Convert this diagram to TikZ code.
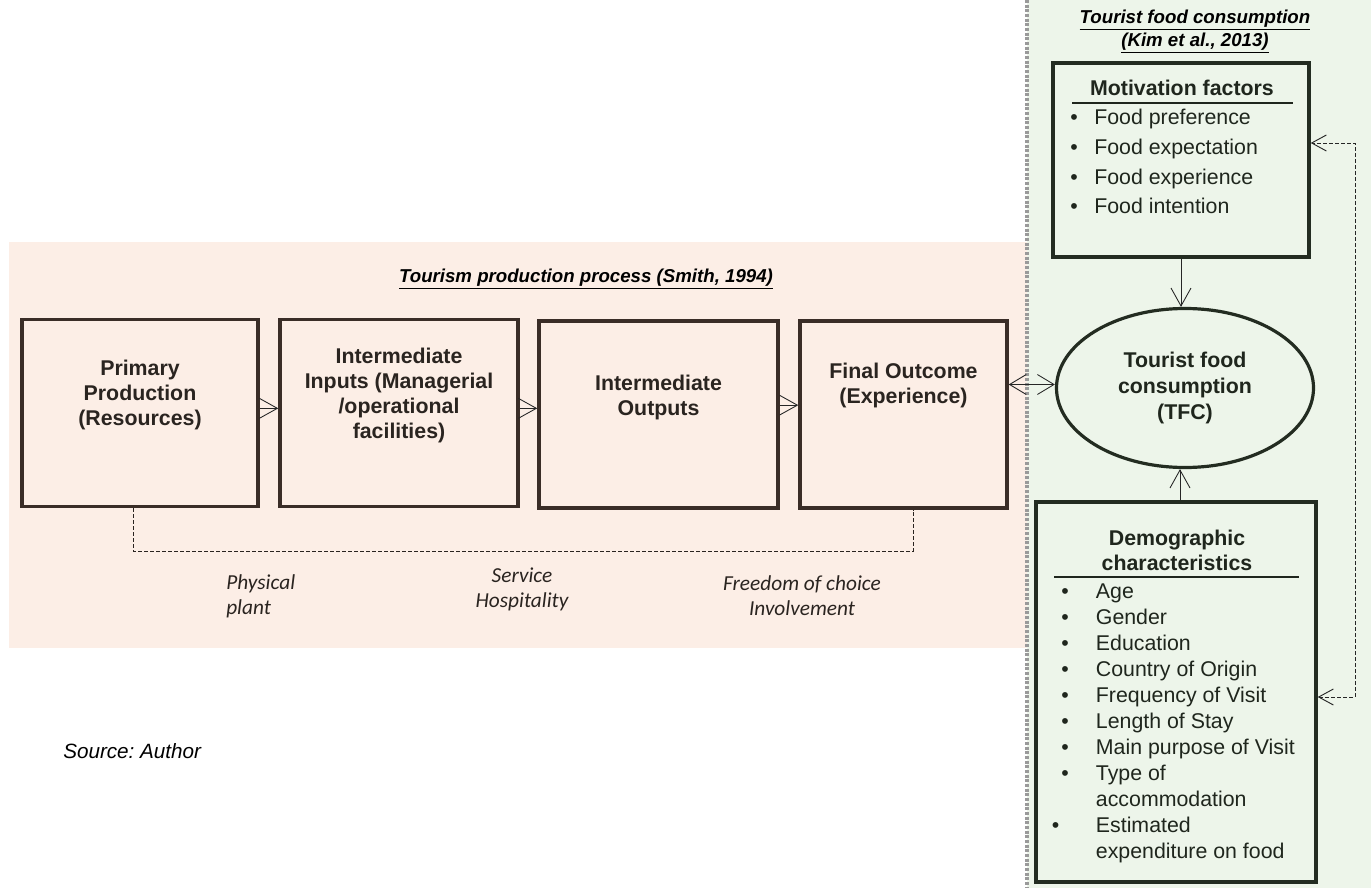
\documentclass[tikz,border=0pt]{standalone}
\usepackage{fontspec}
\setmainfont{Liberation Sans}
\newfontfamily\calibfont{Carlito}
\usetikzlibrary{calc,shapes.geometric,arrows.meta}
\definecolor{peach}{HTML}{FCEEE6}
\definecolor{mint}{HTML}{EDF5EA}
\definecolor{brownline}{HTML}{3A2D27}
\definecolor{greenline}{HTML}{232C21}
\definecolor{ink}{HTML}{2A2420}
\definecolor{greenink}{HTML}{1F261D}
\definecolor{sepgray}{HTML}{9A9A9A}
\frenchspacing

\begin{document}
\begin{tikzpicture}[x=0.75pt,y=-0.75pt,
  procbox/.style={draw=brownline, line width=2.6pt, minimum height=140pt, inner sep=0pt},
  proctext/.style={font=\fontsize{16}{18.75}\selectfont\bfseries, align=center, text=ink, inner sep=0pt},
  rbox/.style={draw=greenline, line width=2.6pt, inner sep=0pt},
  rhead/.style={font=\fontsize{16}{18.75}\selectfont\bfseries, align=center, text=greenink, inner sep=0pt},
  rlist/.style={font=\fontsize{16}{19.5}\selectfont, text=greenink, anchor=base west, inner sep=0pt},
  title/.style={font=\fontsize{14}{17.25}\selectfont\bfseries\itshape, align=center, text=black, inner sep=0pt},
  sidelabel/.style={font=\calibfont\fontsize{16}{18.75}\selectfont\itshape, text=ink, inner sep=0pt},
  arr/.style={-{Straight Barb[length=13.5pt,width=15pt]}, line width=0.65pt, draw=black!85},
  arrboth/.style={{Straight Barb[length=12.5pt,width=15pt]}-{Straight Barb[length=12.5pt,width=15pt]}, line width=0.65pt, draw=black!85},
  linkdash/.style={line width=0.7pt, draw=ink, dash pattern=on 3pt off 1.5pt},
  backdash/.style={{Straight Barb[length=11pt,width=12pt]}-{Straight Barb[length=11pt,width=12pt]}, line width=0.7pt, draw=black!85, dash pattern=on 3pt off 1.5pt},
  rule/.style={line width=1.1pt, draw=greenink}
]
\useasboundingbox (0,0) rectangle (1371,888);

% panels
\fill[peach] (9,242) rectangle (1027,648);
\fill[mint] (1027,0) rectangle (1371,888);
\draw[sepgray, line width=3pt, dash pattern=on 2.2pt off 1.3pt] (1027,0) -- (1027,888);

% ---- tourism production process ----
\node[title] (ltitle) at (586,279) {\underline{Tourism production process (Smith, 1994)}};

\node[procbox, minimum width=177pt]    (b1) at (140,413) {};
\node[procbox, minimum width=178.5pt]  (b2) at (399,413) {};
\node[procbox, minimum width=179.25pt] (b3) at (658.5,414.5) {};
\node[procbox, minimum width=155.25pt] (b4) at (903.5,414.5) {};

\node[proctext] (t1) at (140,395) {Primary\\Production\\(Resources)};
\node[proctext] (t2) at (399,395) {Intermediate\\Inputs (Managerial\\/operational\\facilities)};
\node[proctext] (t3) at (658.5,397) {Intermediate\\Outputs};
\node[proctext] (t4) at (903.5,385) {Final Outcome\\(Experience)};

\draw[arr] ([yshift=3.5pt]b1.east) -- ([yshift=3.5pt]b1.east -| b2.west);
\draw[arr] ([yshift=3.5pt]b2.east) -- ([yshift=3.5pt]b2.east -| b3.west);
\draw[arr] ([yshift=7pt]b3.east) -- ([yshift=7pt]b3.east -| b4.west);

% dashed link under the process boxes
\coordinate (dl) at (133,551);
\coordinate (dr) at (913,551);
\draw[linkdash] (dl |- b1.south) -- (dl) -- (dr) -- (dr |- b4.south);

\node[sidelabel, align=left, anchor=west] (l1) at (226,596) {Physical\\plant};
\node[sidelabel, align=center] (l2) at (522,589) {Service\\Hospitality};
\node[sidelabel, align=center] (l3) at (802,596) {Freedom of choice\\Involvement};

\node[font=\fontsize{15.5}{18}\selectfont\itshape, text=black, anchor=west, inner sep=0pt] (src) at (63,751) {Source: Author};

% ---- tourist food consumption ----
\node[title] (rtitle) at (1195,31.5) {\underline{Tourist food consumption}\\\underline{(Kim et al., 2013)}};

\node[rbox, minimum width=192pt, minimum height=145.5pt] (mot) at (1181,160) {};
\node[rhead] (mh) at (1182,88) {Motivation factors};
\draw[rule] (1072,103) -- (1293,103);
\node[rlist, font=\fontsize{16}{22.2}\selectfont] (ml) at (1070,125) {%
\begin{tabular}[t]{@{}p{18pt}@{}l@{}}
\textbullet & Food preference\\
\textbullet & Food expectation\\
\textbullet & Food experience\\
\textbullet & Food intention
\end{tabular}};

\node[ellipse, draw=greenline, line width=2.4pt, minimum width=192.75pt, minimum height=119.25pt, inner sep=0pt,
      font=\fontsize{16}{19.5}\selectfont\bfseries, align=center, text=greenink] (tfc) at (1185,388)
      {Tourist food\\consumption\\(TFC)};

\node[rbox, minimum width=210pt, minimum height=285pt] (demo) at (1176,692) {};
\node[rhead] (dh) at (1177,550) {Demographic\\characteristics};
\draw[rule] (1054,577) -- (1299,577);
\node[rlist] (dlist) at (1061,598) {%
\begin{tabular}[t]{@{}p{26pt}@{}l@{}}
\textbullet & Age\\
\textbullet & Gender\\
\textbullet & Education\\
\textbullet & Country of Origin\\
\textbullet & Frequency of Visit\\
\textbullet & Length of Stay\\
\textbullet & Main purpose of Visit\\
\textbullet & Type of\\
 & accommodation\\
\hspace*{-7pt}\textbullet & Estimated\\
 & expenditure on food
\end{tabular}};

% connectors on the consumption side
\draw[arr] (mot.south) -- (mot.south |- tfc.north);
\draw[arr] ([xshift=3pt]demo.north) -- ([xshift=3pt]demo.north |- tfc.south);
\draw[arrboth] ([yshift=22.5pt]b4.east) -- ([yshift=22.5pt]b4.east -| tfc.west);

\coordinate (rr) at (1355,143);
\draw[backdash] ([yshift=-3.75pt]demo.east) -| (rr) -- (rr -| mot.east);

\end{tikzpicture}
\end{document}
